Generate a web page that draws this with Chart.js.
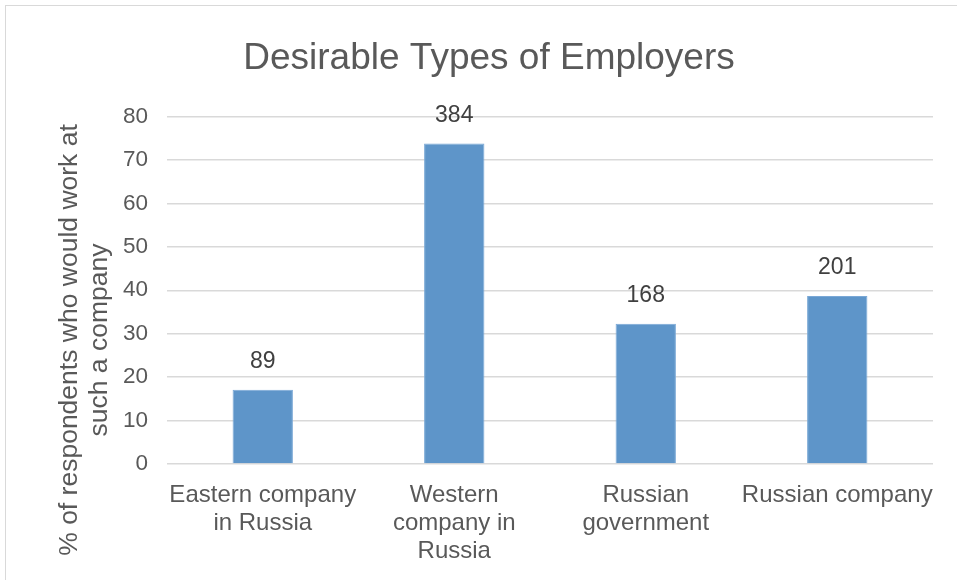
<!DOCTYPE html>
<html>
<head>
<meta charset="utf-8">
<title>Desirable Types of Employers</title>
<script src="https://cdn.jsdelivr.net/npm/chart.js@4/dist/chart.umd.min.js"></script>
<style>
    html, body {
        margin: 0;
        padding: 0;
        background: #ffffff;
    }
    .wrap {
        position: relative;
        width: 957px;
        height: 580px;
        overflow: hidden;
    }
    .frame {
        position: absolute;
        left: 5px;
        top: 5px;
        width: 1200px;
        height: 1200px;
        border: 1px solid #d9d9d9;
    }
    #employerChart {
        position: absolute;
        left: 0;
        top: 0;
    }
</style>
</head>
<body>
<div class="wrap">
    <div class="frame"></div>
    <canvas id="employerChart" width="957" height="580"></canvas>
</div>
<script>
    const chartTitle = 'Desirable Types of Employers';
    const axisTitle = ['% of respondents who would work at', 'such a company'];

    const employerTypes = [
        ['Eastern company', 'in Russia'],
        ['Western', 'company in', 'Russia'],
        ['Russian', 'government'],
        ['Russian company']
    ];
    // number of respondents per employer type (printed above bars)
    const respondentCounts = [89, 384, 168, 201];
    // share of respondents, in percent
    const respondentShare = [17.1, 73.8, 32.3, 38.7];

    const yTicks = [0, 10, 20, 30, 40, 50, 60, 70, 80];

    const textColor = '#595959';
    const fontFamily = '"Liberation Sans", Arial, sans-serif';

    // title, rotated axis title and count labels
    const textPlugin = {
        id: 'textPlugin',
        afterDraw(chart) {
            const ctx = chart.ctx;
            const area = chart.chartArea;
            ctx.save();

            ctx.fillStyle = textColor;
            ctx.font = '37px ' + fontFamily;
            ctx.textAlign = 'center';
            ctx.textBaseline = 'middle';
            ctx.fillText(chartTitle, 489, 59);

            ctx.save();
            ctx.translate(area.left - 97, area.bottom - 124);
            ctx.rotate(-Math.PI / 2);
            ctx.font = '26.5px ' + fontFamily;
            ctx.fillText(axisTitle[0], 0, 0);
            ctx.fillText(axisTitle[1], 0, 30);
            ctx.restore();

            ctx.fillStyle = '#404040';
            ctx.font = '23px ' + fontFamily;
            const meta = chart.getDatasetMeta(0);
            meta.data.forEach((bar, i) => {
                ctx.fillText(String(respondentCounts[i]), bar.x, bar.y - 28);
            });
            ctx.restore();
        }
    };

    new Chart(document.getElementById('employerChart'), {
        type: 'bar',
        data: {
            labels: employerTypes,
            datasets: [{
                data: respondentShare,
                backgroundColor: '#5e95c9',
                borderColor: '#7aa8d6',
                borderWidth: 1,
                categoryPercentage: 1,
                barPercentage: 0.315
            }]
        },
        options: {
            responsive: false,
            animation: false,
            layout: {
                padding: { left: 0, top: 116.5, right: 24, bottom: 0 }
            },
            plugins: {
                legend: { display: false },
                title: { display: false },
                tooltip: { enabled: false }
            },
            scales: {
                x: {
                    grid: { display: false },
                    border: { display: false },
                    ticks: {
                        color: textColor,
                        font: { family: fontFamily, size: 24, lineHeight: 1.17 },
                        maxRotation: 0,
                        autoSkip: false,
                        padding: 9
                    },
                    afterFit(scale) {
                        scale.height = 116;
                    }
                },
                y: {
                    min: 0,
                    max: 80,
                    afterBuildTicks(scale) {
                        scale.ticks = yTicks.map(v => ({ value: v }));
                    },
                    grid: {
                        color: '#d9d9d9',
                        lineWidth: 1.5,
                        drawTicks: false
                    },
                    border: { display: false },
                    ticks: {
                        color: textColor,
                        font: { family: fontFamily, size: 22.5 },
                        padding: 19
                    },
                    afterFit(scale) {
                        scale.width = 167;
                    }
                }
            }
        },
        plugins: [textPlugin]
    });
</script>
</body>
</html>
